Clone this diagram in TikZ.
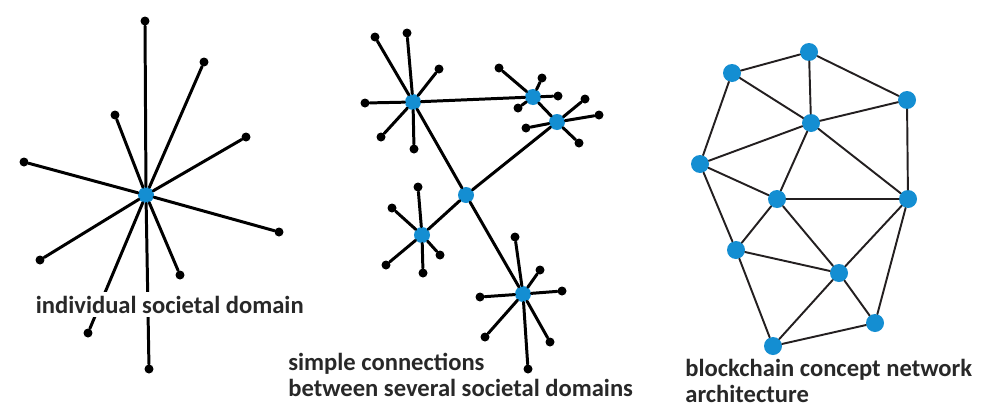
\documentclass[tikz,border=0pt]{standalone}
\usepackage{fontspec}
\setmainfont{Carlito}
\usetikzlibrary{calc}

\definecolor{netblue}{RGB}{20,142,210}
\definecolor{labelgrey}{RGB}{40,40,40}
\definecolor{linkgrey}{RGB}{35,31,32}

\begin{document}
\begin{tikzpicture}[x=0.02cm, y=-0.02cm, line cap=round, line join=round,
	hub/.style={circle, fill=netblue, inner sep=0pt, minimum size=0.32cm},
	peer/.style={circle, fill=netblue, inner sep=0pt, minimum size=0.36cm},
	tip/.style={circle, fill=black, inner sep=0pt, minimum size=0.18cm},
	spoke/.style={line width=1.7pt},
	link/.style={line width=1.1pt, draw=linkgrey},
	caption/.style={font=\fontsize{14}{14.7}\selectfont\bfseries, text=labelgrey, align=left, inner sep=0pt},
	cutout/.style={fill=white, inner sep=2pt}]

\useasboundingbox (0,0) rectangle (981,413);

% ================= Left: one domain =================
\begin{scope}
	\node[hub] (L) at (146,195) {};
	\foreach \p [count=\i] in {(145,21),(204,62),(115,115),(246,137),(24,162),
		(279,232),(40,260),(180,275),(88,333),(149,369)}
	{
		\node[tip] (L\i) at \p {};
		\draw[spoke] (L) -- (L\i);
	}
	
	% label sits on top of the spokes
	\node[caption, cutout, anchor=base west] (single) at (32,313) {individual societal domain};
\end{scope}

% =============== Middle: linked domains ==================
\begin{scope}
	\node[hub] (A) at (413,102) {};
	\node[hub] (B) at (533,97) {};
	\node[hub] (C) at (557,122) {};
	\node[hub] (D) at (466,195) {};
	\node[hub] (E) at (422,235) {};
	\node[hub] (F) at (523,294) {};
	
	% links between hubs
	\draw[spoke] (A) -- (B);
	\draw[spoke] (B) -- (C);
	\draw[spoke] (A) -- (D);
	\draw[spoke] (D) -- (C);
	\draw[spoke] (D) -- (E);
	\draw[spoke] (D) -- (F);
	
	% spokes of each hub
	\foreach \p [count=\i] in {(375,37),(407,33),(439,69),(365,103),(381,137),(414,149)}
	{\node[tip] (a\i) at \p {}; \draw[spoke] (A) -- (a\i);}
	\foreach \p [count=\i] in {(499,68),(542,78),(558,96),(518,108)}
	{\node[tip] (b\i) at \p {}; \draw[spoke] (B) -- (b\i);}
	\foreach \p [count=\i] in {(585,99),(599,115),(526,128),(579,143)}
	{\node[tip] (c\i) at \p {}; \draw[spoke] (C) -- (c\i);}
	\foreach \p [count=\i] in {(418,187),(392,208),(386,265),(440,255),(423,273)}
	{\node[tip] (e\i) at \p {}; \draw[spoke] (E) -- (e\i);}
	\foreach \p [count=\i] in {(515,237),(540,270),(562,291),(480,297),(485,337),(550,342),(528,369)}
	{\node[tip] (f\i) at \p {}; \draw[spoke] (F) -- (f\i);}
	
	% base is the last line here
	\node[caption, anchor=base west] (several) at (288,396)
	{simple connections\\between several societal domains};
\end{scope}

% =============== Right: blockchain mesh ==================
\begin{scope}
	\foreach \p [count=\i] in {(809,52),(732,73),(907,100),(811,123),(700,164),(777,199),
		(908,199),(736,250),(839,273),(875,323),(773,346)}
		\node[peer] (N\i) at \p {};
	
	\foreach \a/\b in {2/1,1/3,1/4,2/4,3/4,2/5,5/4,3/7,4/6,4/7,5/6,
		5/8,6/7,6/8,6/9,8/9,7/9,7/10,8/11,9/11,9/10,11/10}
		\draw[link] (N\a) -- (N\b);
	
	\node[caption, anchor=base west] (chain) at (685,402)
	{blockchain concept network\\architecture};
\end{scope}

\end{tikzpicture}
\end{document}
